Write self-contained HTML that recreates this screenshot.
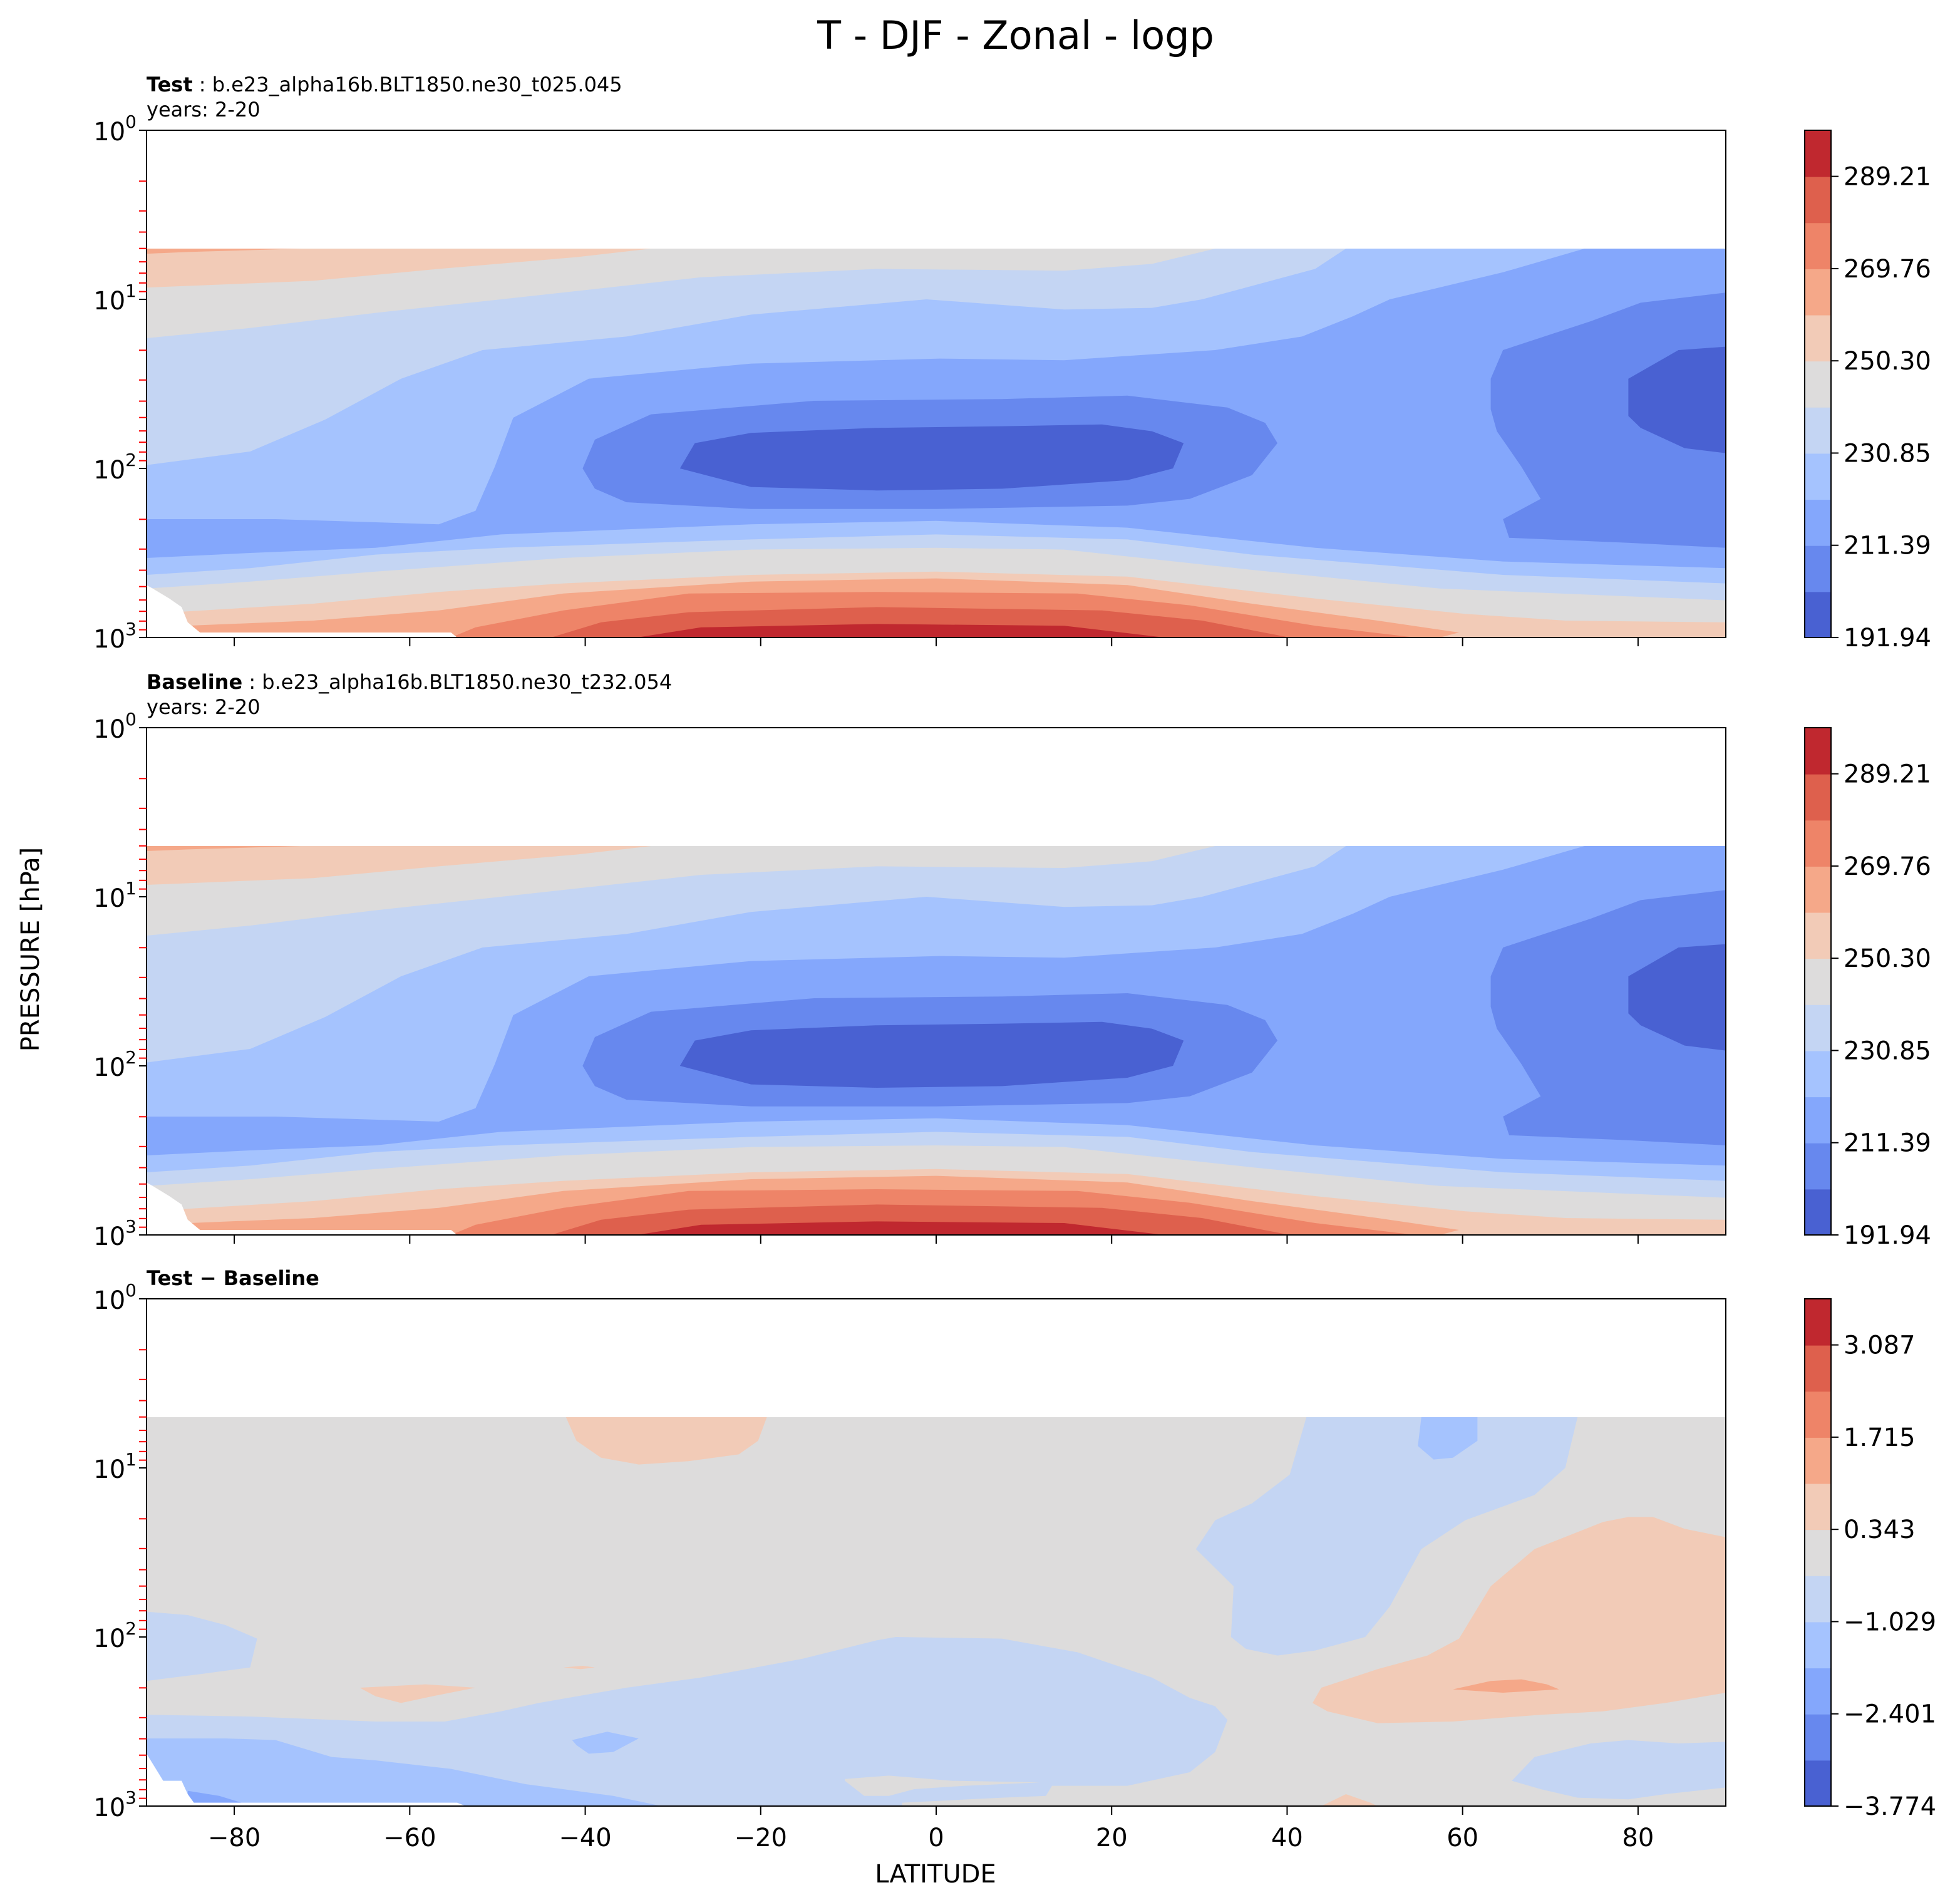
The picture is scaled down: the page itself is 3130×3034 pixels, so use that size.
<!DOCTYPE html>
<html><head><meta charset="utf-8"><style>
html,body{margin:0;padding:0;background:#fff}
svg{display:block;font-family:"DejaVu Sans","Liberation Sans",sans-serif}
</style></head><body>
<svg id="fig" width="3130" height="3034" viewBox="0 0 1565 1517" xmlns="http://www.w3.org/2000/svg">
<text x="811" y="39" font-size="31" text-anchor="middle">T - DJF - Zonal - logp</text>
<text x="117" y="73" font-size="16"><tspan font-weight="bold">Test</tspan> : b.e23_alpha16b.BLT1850.ne30_t025.045</text>
<text x="117" y="93" font-size="16">years: 2-20</text>
<text x="117" y="550" font-size="16"><tspan font-weight="bold">Baseline</tspan> : b.e23_alpha16b.BLT1850.ne30_t232.054</text>
<text x="117" y="570" font-size="16">years: 2-20</text>
<text x="117" y="1026" font-size="16" font-weight="bold">Test − Baseline</text>
<text x="0" y="0" font-size="20" text-anchor="middle" transform="translate(31,758) rotate(-90)">PRESSURE [hPa]</text>
<text x="747" y="1503" font-size="20" text-anchor="middle">LATITUDE</text>
<g id="layer"></g>
</svg>
<script>
// ---- data ----
const latTicks = [-80, -60, -40, -20, 0, 20, 40, 60, 80];
const pDecades = [0, 1, 2, 3];
const tempLevelLabels = ["191.94", "211.39", "230.85", "250.30", "269.76", "289.21"];
const diffLevelLabels = ["\u22123.774", "\u22122.401", "\u22121.029", "0.343", "1.715", "3.087"];
const bandColors = ["#4961d2","#6788ee","#84a7fc","#a5c3fe","#c4d5f3","#dddcdc","#f2cbb7","#f5a889","#ee8468","#de604d","#c0282f"];
const dataTopLogp = 0.7;
// regions: [band, [[lat, log10 p], ...]] painted in order
const testRegions = [
 [4, [[-90,1.23],[-78.2,1.17],[-63.9,1.08],[-49.6,1.0],[-26.8,0.87],[-6.8,0.82],[14.6,0.83],[24.6,0.79],[31.8,0.70],[90,0.70],[90,2.78],[57.4,2.71],[36,2.60],[14.6,2.48],[0,2.47],[-21.1,2.48],[-42.5,2.53],[-63.9,2.61],[-78.2,2.67],[-90,2.71]]],
 [3, [[-90,1.98],[-78.2,1.90],[-69.6,1.71],[-61,1.47],[-51.7,1.30],[-35.3,1.22],[-21.1,1.09],[-1.1,1.00],[14.6,1.06],[24.6,1.05],[30.3,1.00],[43.2,0.82],[46.7,0.70],[90,0.70],[90,2.68],[64.6,2.63],[36,2.51],[21.8,2.42],[0,2.39],[-21.1,2.42],[-49.6,2.47],[-63.9,2.51],[-78.2,2.59],[-90,2.63]]],
 [2, [[-90,2.30],[-75.3,2.30],[-56.7,2.33],[-52.5,2.25],[-50.3,1.99],[-48.2,1.70],[-39.6,1.47],[-21.1,1.38],[0.4,1.35],[14.6,1.36],[31.8,1.30],[41.7,1.22],[47.5,1.10],[51.7,1.00],[64.6,0.84],[73.9,0.70],[90,0.70],[90,2.59],[64.6,2.55],[43.2,2.47],[21.8,2.35],[0,2.31],[-21.1,2.33],[-49.6,2.39],[-63.9,2.47],[-78.2,2.50],[-90,2.53]]],
 [1, [[-40.3,2.00],[-38.9,1.83],[-32.5,1.68],[-13.9,1.60],[7.5,1.59],[21.8,1.57],[33.2,1.64],[37.5,1.73],[38.9,1.85],[36,2.04],[28.9,2.18],[21.8,2.22],[0,2.24],[-21.1,2.24],[-35.3,2.20],[-38.9,2.12]]],
 [1, [[64.6,1.30],[74.6,1.13],[80.3,1.02],[90,0.96],[90,2.47],[78.9,2.44],[65.3,2.41],[64.6,2.30],[68.9,2.18],[66.7,1.99],[63.9,1.78],[63.2,1.65],[63.2,1.47]]],
 [0, [[-29.2,2.0],[-27.5,1.85],[-21.1,1.79],[-6.8,1.76],[7.5,1.75],[18.9,1.74],[24.6,1.78],[28.2,1.85],[27,2.0],[21.8,2.07],[7.5,2.12],[-6.8,2.13],[-21.1,2.11]]],
 [0, [[78.9,1.47],[84.6,1.30],[90,1.28],[90,1.91],[85.3,1.88],[80.3,1.76],[78.9,1.69]]],
 [6, [[-90,0.70],[-32.5,0.70],[-41,0.75],[-56.7,0.82],[-71,0.89],[-90,0.93]]],
 [6, [[-90,2.86],[-71,2.80],[-56.7,2.73],[-42.5,2.68],[-21.1,2.63],[0,2.61],[21.8,2.64],[43.2,2.77],[60.3,2.86],[71.7,2.90],[90,2.91],[90,3],[-90,3]]],
 [7, [[-90,0.70],[-72.4,0.70],[-85.3,0.72],[-90,0.73]]],
 [7, [[-90,2.94],[-71,2.90],[-56.7,2.84],[-42.5,2.74],[-21.1,2.67],[0,2.65],[21.8,2.69],[36,2.80],[50.3,2.90],[59.6,2.97],[57.4,3.0],[-90,3]]],
 [8, [[-55.3,3.0],[-52.5,2.94],[-42.5,2.84],[-28.2,2.74],[-6.8,2.73],[16.1,2.74],[28.9,2.81],[43.2,2.93],[54.6,3.0]]],
 [9, [[-43.9,3.0],[-38.2,2.91],[-28.2,2.85],[-6.8,2.82],[18.9,2.84],[30.3,2.90],[40.3,3.0]]],
 [10, [[-34.1,3.0],[-26.8,2.94],[-6.8,2.92],[14.6,2.93],[26,3.0]]],
 [-1, [[-90,2.69],[-89.3,2.71],[-87.4,2.77],[-86,2.82],[-85.3,2.91],[-83.9,2.97],[-55.3,2.97],[-54.6,3.0],[-90,3.0]]]
];
const baselineRegions = testRegions;
const diffRegions = [
 [6, [[-42.2,0.70],[-41,0.84],[-38.2,0.94],[-33.9,0.98],[-28.2,0.96],[-22.5,0.92],[-20.3,0.84],[-19.3,0.70]]],
 [4, [[42.2,0.70],[40.3,1.04],[36,1.21],[31.8,1.31],[29.6,1.48],[33.9,1.70],[33.6,2.0],[35.3,2.07],[38.9,2.11],[43.2,2.08],[48.9,2.0],[51.7,1.82],[55.3,1.48],[60.3,1.31],[68.2,1.16],[71.7,1.00],[73.1,0.70]]],
 [3, [[55.3,0.70],[54.9,0.87],[56.7,0.95],[58.9,0.94],[61.7,0.84],[61.7,0.70]]],
 [4, [[-90,1.85],[-85.3,1.87],[-81,1.93],[-77.4,2.01],[-78.2,2.18],[-83.9,2.22],[-90,2.26]]],
 [4, [[-90,2.46],[-78.2,2.47],[-63.9,2.50],[-56,2.50],[-49.6,2.44],[-45.3,2.39],[-35.3,2.30],[-26.8,2.24],[-15.3,2.13],[-6.8,2.02],[-4.6,2.0],[7.5,2.01],[16.1,2.09],[24.6,2.24],[28.9,2.36],[31.8,2.41],[33.2,2.49],[31.8,2.68],[28.9,2.80],[21.8,2.88],[13.2,2.88],[12.5,2.94],[7.5,2.95],[-3.9,2.98],[-3.9,3.0],[-90,3.0]]],
 [5, [[-10.4,2.84],[-5.4,2.82],[1.8,2.85],[11.8,2.86],[3.3,2.88],[-2.5,2.90],[-5.4,2.94],[-8.2,2.94],[-10.4,2.85]]],
 [3, [[-90,2.60],[-81,2.60],[-75.3,2.61],[-68.9,2.71],[-63.9,2.73],[-55.3,2.78],[-46.8,2.87],[-36.8,2.94],[-31.3,3.0],[-90,3.0]]],
 [3, [[-41.5,2.61],[-37.5,2.56],[-33.9,2.60],[-36.8,2.68],[-39.6,2.69],[-41,2.64]]],
 [2, [[-85.3,2.91],[-81.7,2.94],[-79.2,2.98],[-78.9,3.0],[-85.3,3.0]]],
 [6, [[43.9,2.30],[50.3,2.19],[56,2.11],[59.6,2.01],[63.2,1.70],[68.2,1.48],[76,1.32],[78.9,1.29],[81.7,1.29],[85.3,1.36],[90,1.41],[90,2.33],[83.1,2.39],[76,2.44],[68.9,2.46],[58.9,2.50],[50.3,2.51],[44.6,2.44],[42.9,2.39]]],
 [7, [[58.9,2.31],[63.2,2.26],[66.7,2.25],[69.6,2.28],[71,2.31],[64.6,2.33]]],
 [6, [[-65.7,2.30],[-58.2,2.28],[-52.5,2.30],[-57.4,2.35],[-61,2.39],[-63.9,2.35]]],
 [6, [[-42.5,2.18],[-40.3,2.17],[-38.9,2.18],[-40.5,2.19]]],
 [4, [[68.2,2.71],[74.6,2.63],[78.9,2.61],[84.6,2.63],[90,2.62],[90,2.89],[83.1,2.93],[78.9,2.96],[73.1,2.95],[68.9,2.90],[65.6,2.85]]],
 [6, [[43.9,3.0],[46.7,2.93],[49.5,2.98],[50.3,3.0]]],
 [-1, [[-90,2.69],[-88.1,2.85],[-86,2.85],[-85.3,2.93],[-84.6,2.98],[-54.6,2.98],[-53.6,3.0],[-90,3.0]]]
];
// ---- layout ----
const NS = "http://www.w3.org/2000/svg";
const layer = document.getElementById('layer');
const X0 = 117, X1 = 1378, H = 405, CBX = 1441, CBW = 21;
function mk(tag, attrs, parent) {
  const e = document.createElementNS(NS, tag);
  for (const k in attrs) e.setAttribute(k, attrs[k]);
  (parent || layer).appendChild(e);
  return e;
}
function xScale(lat) { return X0 + (lat + 90) / 180 * (X1 - X0); }
function yScaleFor(top) { return lp => top + lp / 3 * H; }

function drawPanel(top, regions, labels, key, showX) {
  const y = yScaleFor(top);
  const g = mk('g', {});
  
  
  const bg = mk('rect', {x: X0, y: y(dataTopLogp), width: X1 - X0, height: y(3) - y(dataTopLogp), fill: bandColors[5]}, g);
  
  
  regions.forEach((r, i) => {
    const d = r[1].map((p, j) => (j ? 'L' : 'M') + xScale(p[0]).toFixed(1) + ',' + y(p[1]).toFixed(1)).join('') + 'Z';
    const path = mk('path', {d: d, fill: r[0] < 0 ? '#fff' : bandColors[r[0]]}, g);
    
    
  });
  const frame = mk('rect', {x: X0, y: top, width: X1 - X0, height: H, fill: 'none', stroke: '#000', 'stroke-width': 1}, g);
  
  
  // y ticks
  pDecades.forEach(dc => {
    const yy = y(dc);
    mk('line', {x1: X0 - 6, x2: X0, y1: yy, y2: yy, stroke: '#000', 'stroke-width': 1}, g);
    const t = mk('text', {x: X0 - 8, y: yy + 8, 'font-size': 20, 'text-anchor': 'end'}, g);
    
    
    t.textContent = '10';
    const s = mk('tspan', {dy: -10, 'font-size': 14}, t);
    s.textContent = String(dc);
    if (dc < 3) for (let m = 2; m <= 9; m++) {
      const ym = y(dc + Math.log10(m));
      const mt = mk('line', {x1: X0 - 6, x2: X0, y1: ym, y2: ym, stroke: '#f00', 'stroke-width': 1}, g);
      
      
    }
  });
  // x ticks
  latTicks.forEach(l => {
    const xx = xScale(l);
    mk('line', {x1: xx, x2: xx, y1: top + H, y2: top + H + 7, stroke: '#000', 'stroke-width': 1}, g);
    if (showX) {
      const t = mk('text', {x: xx, y: top + H + 32, 'font-size': 20, 'text-anchor': 'middle'}, g);
      
      
      t.textContent = l < 0 ? '\u2212' + (-l) : String(l);
    }
  });
  // colorbar
  const cb = mk('g', {}, layer);
  
  
  const bh = H / bandColors.length;
  bandColors.forEach((c, i) => {
    mk('rect', {x: CBX, y: top + H - (i + 1) * bh, width: CBW, height: bh + 0.5, fill: c}, cb);
  });
  mk('rect', {x: CBX, y: top, width: CBW, height: H, fill: 'none', stroke: '#000', 'stroke-width': 1}, cb);
  labels.forEach((lab, i) => {
    const yy = top + H - i * 2 * bh;
    mk('line', {x1: CBX + CBW, x2: CBX + CBW + 6, y1: yy, y2: yy, stroke: '#000', 'stroke-width': 1}, cb);
    const t = mk('text', {x: CBX + CBW + 10, y: yy + 7, 'font-size': 20}, cb);
    
    
    t.textContent = lab;
  });
}
drawPanel(104, testRegions, tempLevelLabels, 'test', false);
drawPanel(581, baselineRegions, tempLevelLabels, 'baseline', false);
drawPanel(1037, diffRegions, diffLevelLabels, 'diff', true);
</script>
</body></html>
